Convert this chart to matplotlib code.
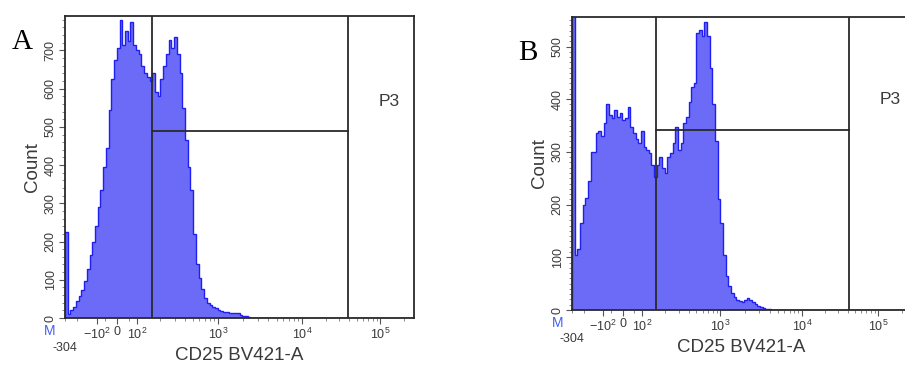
import numpy as np
import matplotlib.pyplot as plt
from matplotlib.ticker import FixedLocator, MultipleLocator

plt.rcParams['font.family'] = ['Liberation Sans', 'DejaVu Sans']
plt.rcParams['mathtext.fontset'] = 'custom'
plt.rcParams['mathtext.rm'] = 'Liberation Sans'
plt.rcParams['mathtext.it'] = 'Liberation Sans:italic'

# counts per channel (128 channels across the display axis)
counts_a = [226, 10, 20, 30, 45, 58, 72, 98, 128, 165, 200, 240, 290, 335, 395, 445,
            545, 625, 675, 705, 780, 715, 750, 725, 775, 715, 700, 690, 660, 640, 630, 620,
            640, 590, 580, 625, 660, 690, 728, 705, 736, 690, 640, 550, 465, 395, 335, 220,
            140, 105, 76, 52, 38, 33, 29, 26, 22, 19, 17, 16, 14, 13, 13, 12,
            9, 6, 4, 2]
counts_b = [1500, 104, 115, 165, 200, 213, 245, 300, 300, 335, 340, 330, 354, 390, 370, 365,
            380, 367, 373, 360, 365, 386, 348, 335, 325, 316, 340, 310, 304, 297, 275, 253,
            275, 291, 270, 260, 291, 297, 316, 348, 304, 316, 355, 367, 395, 424, 430, 525,
            532, 520, 547, 520, 460, 390, 320, 210, 165, 105, 65, 45, 32, 24, 19, 17,
            16, 19, 23, 19, 16, 11, 7, 5, 3, 2, 1]
ymax = [790, 556]
gate_lo = [155, 155]          # CD25 value of the left gate line
gate_p3 = [38500, 41000]      # CD25 value of the P3 gate line
gate_h = [488, 342]           # height of the horizontal gate marker
panels = ['A', 'B']

tick_vals = [-100, 0, 100, 1e3, 1e4, 1e5]
tick_labels = [r'$-10^2$', '0', r'$10^2$', r'$10^3$', r'$10^4$', r'$10^5$']
xmin, xmax = -304, 262144

# biexponential-like display scale (anchor value -> axis fraction)
anchors = np.array([-304, -100, 0, 100, 1e3, 1e4, 1e5, 262144])
anchor_pos = np.array([0.0, 0.092, 0.149, 0.206, 0.438, 0.679, 0.903, 1.0])
g_anch = np.arcsinh(anchors / 50)


def fwd(x):
    return np.interp(np.arcsinh(np.asarray(x, float) / 50), g_anch, anchor_pos)


def inv(p):
    return 50 * np.sinh(np.interp(np.asarray(p, float), anchor_pos, g_anch))


edges = inv(np.linspace(0, 1, 129))
minor_x = [-300, -200, -50, 50] + [k * 10 ** d for d in (2, 3, 4) for k in range(2, 10)] + [2e5]

fig = plt.figure(figsize=(9.05, 3.65), dpi=100)
boxes = [[65 / 905, 47 / 365, 349 / 905, 302 / 365],
         [572 / 905, 55 / 365, 339 / 905, 293 / 365]]
lab_pos = [(0.0249, 0.8836), (0.5829, 0.8548)]
p3_pos = [(0.928, 0.716), (0.938, 0.717)]
ystep_minor = [20, 10]
fill_c, edge_c, line_c, text_c = '#6b6bf7', '#1f1ff0', '#2a2a2a', '#3a3a3a'

for k in range(2):
    ax = fig.add_axes(boxes[k])
    ax.set_xscale('function', functions=(fwd, inv))
    c = np.zeros(128)
    vals = counts_a if k == 0 else counts_b
    c[:len(vals)] = vals
    ax.stairs(c, edges, fill=True, color=fill_c, lw=0)
    ax.stairs(c, edges, color=edge_c, lw=1.0)
    ax.set_xlim(xmin, xmax)
    ax.set_ylim(0, ymax[k])

    ax.axvline(gate_lo[k], color=line_c, lw=1.3)
    ax.axvline(gate_p3[k], color=line_c, lw=1.3)
    ax.plot([gate_lo[k], gate_p3[k]], [gate_h[k], gate_h[k]], color=line_c, lw=1.3)
    ax.text(*p3_pos[k], 'P3', transform=ax.transAxes, fontsize=12.5, color=text_c,
            ha='center', va='center')

    ax.xaxis.set_major_locator(FixedLocator(tick_vals))
    ax.set_xticklabels(tick_labels)
    ax.xaxis.set_minor_locator(FixedLocator(minor_x))
    ax.yaxis.set_major_locator(MultipleLocator(100))
    ax.yaxis.set_minor_locator(MultipleLocator(ystep_minor[k]))
    ax.tick_params(which='major', length=4, width=0.8, color='#555555', labelsize=9,
                   labelcolor=text_c, pad=2)
    ax.tick_params(which='minor', length=2, width=0.6, color='#777777')
    ax.tick_params(axis='y', labelrotation=90)
    for lab in ax.get_yticklabels():
        lab.set_va('center')
    for s in ax.spines.values():
        s.set_color(line_c)
        s.set_linewidth(1.3)

    ax.text(xmin, -0.1, '-304', transform=ax.get_xaxis_transform(), fontsize=9,
            color=text_c, ha='center', va='center')
    ax.text(-0.043, -0.043, 'M', transform=ax.transAxes, fontsize=10, color='#4060f0',
            ha='center', va='center')
    ax.set_xlabel('CD25 BV421-A', fontsize=13.5, color=text_c, labelpad=4)
    ax.set_ylabel('Count', fontsize=13.5, color=text_c, labelpad=3)

    fig.text(*lab_pos[k], panels[k], family='Liberation Serif', fontsize=21,
             ha='center', va='center', color='black')

fig.savefig('out.png', dpi=100)
